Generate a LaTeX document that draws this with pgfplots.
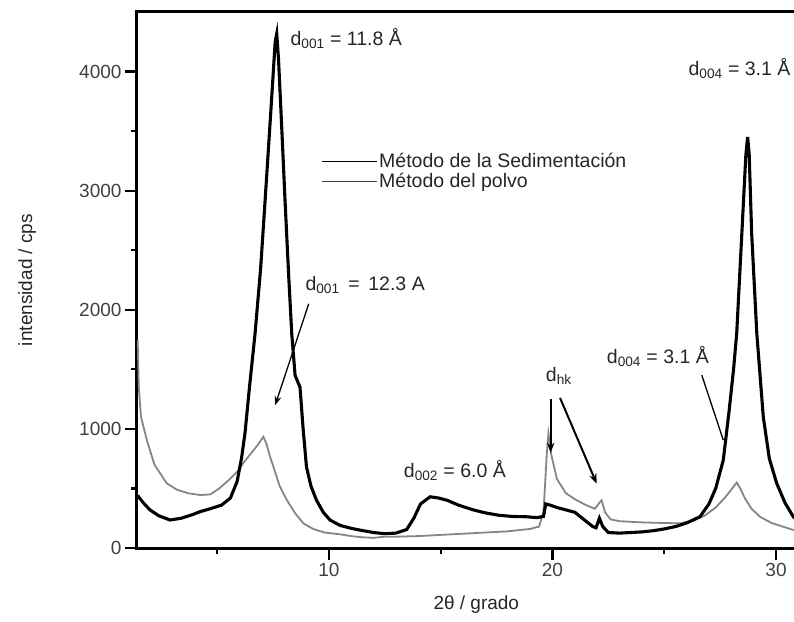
\documentclass[border=0pt]{standalone}
\usepackage{fontspec}
\setmainfont{Liberation Sans}
\usepackage{pgfplots}
\pgfplotsset{compat=1.18}
\usetikzlibrary{arrows.meta}

\pgfplotstableread{
x y
1.45 440
1.7 380
2.0 320
2.4 270
2.9 235
3.4 250
3.9 280
4.24 305
4.7 330
5.2 360
5.6 420
5.9 560
6.1 760
6.25 965
6.45 1350
6.7 1800
6.95 2350
7.15 2920
7.4 3650
7.6 4250
7.67 4318
7.75 4100
7.9 3500
8.04 2920
8.2 2300
8.34 1800
8.49 1450
8.6 1400
8.71 1350
8.85 1000
9.0 680
9.2 520
9.45 400
9.75 300
10.05 235
10.5 190
11.0 165
11.4 150
12.0 130
12.5 120
13.0 125
13.48 155
13.8 250
14.1 370
14.53 430
14.9 420
15.3 400
15.8 360
16.46 320
17.0 295
17.6 275
18.2 265
18.85 262
19.3 255
19.6 265
19.7 370
19.9 360
20.2 340
20.6 320
21.0 300
21.4 240
21.8 180
21.95 170
22.1 250
22.25 180
22.5 130
23.0 125
23.5 130
24.0 135
24.5 145
25.0 160
25.5 180
26.0 210
26.6 263
27.0 370
27.3 500
27.64 738
27.9 1150
28.1 1500
28.24 1800
28.47 2640
28.65 3300
28.73 3451
28.8 3300
28.91 2640
29.14 1800
29.43 1100
29.7 750
30.03 543
30.4 380
30.78 260
31.0 230
}\sed

\pgfplotstableread{
x y
1.45 1750
1.5 1350
1.6 1100
1.86 906
2.2 700
2.75 543
3.2 490
3.7 460
4.24 445
4.7 450
5.1 500
5.58 580
5.9 640
6.2 720
6.5 790
6.8 860
7.07 934
7.2 880
7.35 780
7.52 682
7.8 520
8.12 403
8.5 290
8.86 207
9.3 160
9.8 130
10.5 115
11.0 100
11.5 90
12.0 85
12.5 95
13.0 95
14.0 100
15.0 110
16.0 120
17.0 130
18.0 140
19.0 160
19.4 180
19.6 300
19.75 800
19.82 962
19.95 780
20.2 580
20.6 460
21.0 410
21.5 360
21.9 330
22.1 380
22.2 400
22.35 300
22.6 240
23.0 225
24.0 215
25.0 210
25.7 207
26.3 230
26.8 270
27.3 340
27.7 420
28.0 490
28.24 550
28.4 500
28.6 420
28.9 330
29.3 260
29.8 210
30.3 180
30.78 151
31.0 145
}\polvo

\begin{document}
\begin{tikzpicture}
\begin{axis}[name=ax, at={(0,0)}, anchor=south west,
  scale only axis, width=661.4pt, height=536pt,
  xmin=1.42, xmax=31.0, ymin=0, ymax=4500,
  xtick={10,20,30}, minor xtick={5,15,25},
  ytick={0,1000,2000,3000,4000}, minor ytick={500,1500,2500,3500},
  tick align=outside, xtick pos=bottom, ytick pos=left,
  major tick length=12pt, minor tick length=6pt,
  every tick/.style={black, line width=2.2pt},
  axis line style={line width=3pt},
  scaled ticks=false,
  /pgf/number format/1000 sep={},
  /pgf/number format/assume math mode=true,
  tick label style={font=\fontsize{19}{22}\selectfont, text=black!75},
  ylabel={intensidad / cps},
  xlabel={2θ / grado},
  ylabel style={at={(axis description cs:-0.166,0.5)}, anchor=center, font=\fontsize{19}{22}\selectfont, text=black!85},
  xlabel style={at={(axis description cs:0.513,-0.106)}, anchor=center, font=\fontsize{19}{22}\selectfont, text=black!85},
  legend image code/.code={\draw[#1] (0pt,0pt) -- (55pt,0pt);},
  legend cell align=left,
  legend style={at={(axis cs:9.65,3330)}, anchor=north west, draw=none, fill=none, inner sep=0pt, row sep=0pt,
    font=\fontsize{19.5}{22}\selectfont, text=black!85},
]
\addplot[black!48, line width=1.8pt, forget plot] table[x=x, y=y] {\polvo};
\addplot[black, line width=3.1pt, forget plot] table[x=x, y=y] {\sed};
\addlegendimage{black, line width=1pt}
\addlegendentry{Método de la Sedimentación}
\addlegendimage{black!75, line width=1pt}
\addlegendentry{Método del polvo}

\begin{scope}[font=\fontsize{19.5}{22}\selectfont, text=black!85]
\node[anchor=base west] at (axis cs:8.13,4220) {d\textsubscript{001} = 11.8 Å};
\node[anchor=base west] at (axis cs:8.8,2165) {d\textsubscript{001}\, = \,12.3 A};
\node[anchor=base west] at (axis cs:13.2,596) {d\textsubscript{002} = 6.0 Å};
\node[anchor=base west] at (axis cs:19.55,1400) {d\textsubscript{hk}};
\node[anchor=base west] at (axis cs:22.28,1552) {d\textsubscript{004} = 3.1 Å};
\node[anchor=base west] at (axis cs:25.93,3968) {d\textsubscript{004} = 3.1 Å};
\end{scope}
\draw[line width=1.3pt, -{Stealth[length=9pt]}] (axis cs:9.1,2050) -- (axis cs:7.6,1200);
\draw[line width=1.8pt, -{Stealth[length=10pt]}] (axis cs:19.92,1250) -- (axis cs:19.92,800);
\draw[line width=2pt, -{Stealth[length=10pt]}] (axis cs:20.34,1260) -- (axis cs:21.98,540);
\draw[line width=1.3pt] (axis cs:26.68,1451) -- (axis cs:27.64,906);
\end{axis}
\pgfresetboundingbox
\path[use as bounding box] ([shift={(-137pt,-73pt)}]ax.south west) rectangle ([shift={(657pt,548pt)}]ax.south west);
\end{tikzpicture}
\end{document}
